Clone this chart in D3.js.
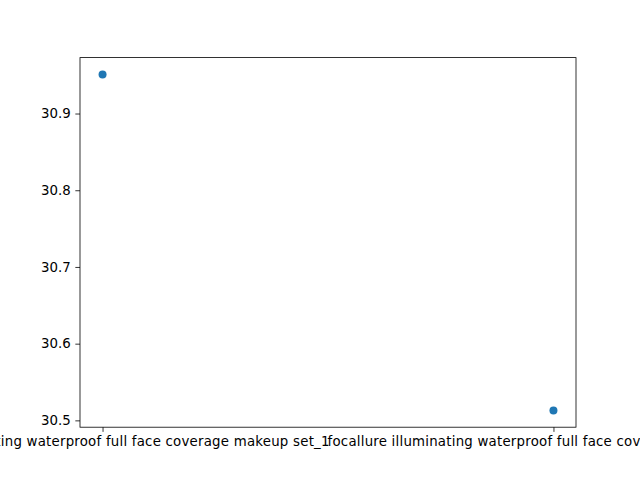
<!DOCTYPE html>
<html><head><meta charset="utf-8">
<script src="https://cdn.jsdelivr.net/npm/d3@7"></script>
<style>body{margin:0;background:#fff}svg{display:block}text{font-family:"DejaVu Sans";font-size:13.333px;fill:#000}</style>
</head><body>
<script>
const categories = ["focallure illuminating waterproof full face coverage makeup set_1", "focallure illuminating waterproof full face coverage makeup set_2"];
const values = [30.951, 30.513];
const yTicks = [30.5, 30.6, 30.7, 30.8, 30.9];

const W = 640, H = 480;
const L = 80, R = 576, T = 57.6, B = 427.2;
const svg = d3.select("body").append("svg").attr("width", W).attr("height", H);

const x = d3.scaleLinear().domain([-0.05, categories.length - 1 + 0.05]).range([L, R]);
const ymin = d3.min(values), ymax = d3.max(values), span = ymax - ymin;
const y = d3.scaleLinear().domain([ymin - 0.05 * span, ymax + 0.05 * span]).range([B, T]);

const xAxis = d3.axisBottom(x).tickValues(categories.map((d, i) => i)).tickFormat(i => categories[i]).tickSizeOuter(0).tickSize(4.67).tickPadding(4.67);
const yAxis = d3.axisLeft(y).tickValues(yTicks).tickFormat(d3.format(".1f")).tickSizeOuter(0).tickSize(4.67).tickPadding(4.67);

const gx = svg.append("g").attr("transform", `translate(0,${B})`).call(xAxis);
const gy = svg.append("g").attr("transform", `translate(${L},0)`).call(yAxis);
[gx, gy].forEach(g => {
  g.select(".domain").remove();
  g.selectAll("line").attr("stroke", "#000").attr("stroke-width", 0.8);
  g.selectAll("text").attr("fill", "#000").style("font-family", "DejaVu Sans").style("font-size", "13.333px");
});
gx.selectAll("text").each(function() {
  const len = this.getComputedTextLength();
  d3.select(this).attr("textLength", len * 1.033).attr("lengthAdjust", "spacing");
});

svg.append("rect").attr("x", L).attr("y", T).attr("width", R - L).attr("height", B - T)
  .attr("fill", "none").attr("stroke", "#000").attr("stroke-width", 0.8);

svg.append("g").selectAll("circle").data(values).join("circle")
  .attr("cx", (d, i) => x(i)).attr("cy", d => y(d)).attr("r", 4).attr("fill", "#1f77b4");
</script>
</body></html>
